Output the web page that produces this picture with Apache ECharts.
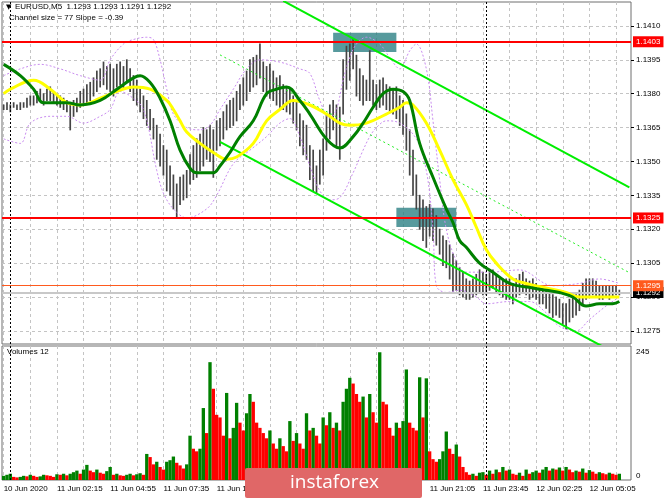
<!DOCTYPE html>
<html><head><meta charset="utf-8">
<script src="https://cdn.jsdelivr.net/npm/echarts@6/dist/echarts.min.js"></script>
<style>html,body{margin:0;padding:0;background:#fff}#c{width:665px;height:499px}</style>
</head><body><div id="c"></div>
<script>
// ---- data (10-minute bars, index 0 = 10 Jun 23:35) ----
const slotCount = 189;
const tickLabels = ['10 Jun 2020','11 Jun 02:15','11 Jun 04:55','11 Jun 07:35','11 Jun 10:15','11 Jun 12:55','11 Jun 15:35','11 Jun 18:15','11 Jun 21:05','11 Jun 23:45','12 Jun 02:25','12 Jun 05:05'];
const priceTicks = [1.1275,1.1290,1.1305,1.1320,1.1335,1.1350,1.1365,1.1380,1.1395,1.1410];
const volumeTicks = [0,245];
const barHigh = [
1.1375,1.1376,1.1375,1.1376,1.1375,1.1376,1.1376,1.1378,1.1379,1.1379,
1.1381,1.1382,1.1380,1.1382,1.1383,1.1381,1.1379,1.1379,1.1378,1.1377,
1.1375,1.1377,1.1378,1.1381,1.1382,1.1384,1.1385,1.1387,1.1390,1.1391,
1.1394,1.1392,1.1393,1.1391,1.1393,1.1394,1.1392,1.1395,1.1391,1.1388,
1.1386,1.1382,1.1379,1.1377,1.1373,1.1369,1.1366,1.1362,1.1357,1.1355,
1.1348,1.1344,1.1340,1.1343,1.1344,1.1346,1.1353,1.1357,1.1360,1.1362,
1.1365,1.1364,1.1366,1.1364,1.1368,1.1369,1.1372,1.1375,1.1377,1.1378,
1.1381,1.1384,1.1387,1.1390,1.1395,1.1396,1.1397,1.1402,1.1394,1.1392,
1.1393,1.1390,1.1387,1.1388,1.1384,1.1383,1.1382,1.1379,1.1377,1.1371,
1.1368,1.1366,1.1357,1.1355,1.1348,1.1355,1.1360,1.1371,1.1375,1.1377,
1.1375,1.1374,1.1395,1.1401,1.1402,1.1404,1.1397,1.1391,1.1388,1.1386,
1.1399,1.1386,1.1384,1.1386,1.1387,1.1384,1.1383,1.1382,1.1383,1.1379,
1.1377,1.1371,1.1364,1.1355,1.1344,1.1335,1.1333,1.1330,1.1331,1.1329,
1.1326,1.1320,1.1317,1.1315,1.1313,1.1309,1.1306,1.1303,1.1301,1.1298,
1.1297,1.1298,1.1300,1.1302,1.1301,1.1300,1.1302,1.1302,1.1300,1.1298,
1.1298,1.1298,1.1298,1.1296,1.1298,1.1300,1.1301,1.1298,1.1297,1.1298,
1.1296,1.1295,1.1295,1.1293,1.1292,1.1291,1.1290,1.1289,1.1287,1.1287,
1.1289,1.1290,1.1291,1.1293,1.1296,1.1298,1.1298,1.1298,1.1297,1.1295,
1.1295,1.1295,1.1295,1.1295,1.1295,1.1293];
const barLow = [
1.1373,1.1373,1.1372,1.1374,1.1373,1.1373,1.1374,1.1374,1.1375,1.1375,
1.1376,1.1377,1.1375,1.1377,1.1377,1.1376,1.1375,1.1374,1.1373,1.1372,
1.1364,1.1370,1.1372,1.1374,1.1375,1.1376,1.1377,1.1379,1.1381,1.1383,
1.1384,1.1382,1.1381,1.1379,1.1383,1.1384,1.1382,1.1385,1.1381,1.1377,
1.1375,1.1372,1.1369,1.1366,1.1364,1.1360,1.1351,1.1348,1.1344,1.1337,
1.1335,1.1329,1.1325,1.1331,1.1333,1.1334,1.1340,1.1342,1.1343,1.1346,
1.1348,1.1351,1.1350,1.1343,1.1355,1.1357,1.1360,1.1364,1.1365,1.1366,
1.1368,1.1373,1.1375,1.1377,1.1381,1.1383,1.1384,1.1387,1.1381,1.1379,
1.1378,1.1377,1.1375,1.1374,1.1373,1.1372,1.1371,1.1367,1.1364,1.1357,
1.1353,1.1351,1.1342,1.1337,1.1336,1.1340,1.1344,1.1355,1.1360,1.1364,
1.1357,1.1351,1.1371,1.1382,1.1386,1.1391,1.1379,1.1377,1.1375,1.1377,
1.1377,1.1375,1.1373,1.1374,1.1375,1.1373,1.1372,1.1371,1.1369,1.1366,
1.1362,1.1355,1.1344,1.1335,1.1329,1.1320,1.1315,1.1312,1.1317,1.1315,
1.1313,1.1309,1.1304,1.1303,1.1298,1.1292,1.1293,1.1291,1.1290,1.1289,
1.1289,1.1290,1.1291,1.1292,1.1291,1.1291,1.1293,1.1294,1.1292,1.1291,
1.1290,1.1289,1.1289,1.1287,1.1290,1.1291,1.1292,1.1291,1.1289,1.1290,
1.1289,1.1287,1.1287,1.1285,1.1283,1.1281,1.1282,1.1281,1.1278,1.1276,
1.1279,1.1281,1.1282,1.1284,1.1287,1.1289,1.1290,1.1291,1.1290,1.1289,
1.1289,1.1290,1.1289,1.1290,1.1291,1.1291];
const volumes = [8,10,12,6,5,6,8,7,10, 8,6,7,10,9,8,6, 11,10,12,9,12, 15,18,12,20,29, 18,15,20,14,12,17,25,
10,12,9,8,10,12,9,11,13,10, 50,44, 30,35,25,20, 35,38,45,33, 28,22,30, 85, 60,55, 60, 138, 90, 226, 175,
125,120, 85, 167, 80, 100, 148, 110,95, 128, 165,150, 110,100, 90,80,95, 70,60,80,65,55, 113, 75, 90,70,
60, 128, 95, 100,85, 70, 120,105,130,100, 110,95, 150,175, 196, 185, 165,150,160, 120, 165, 130,110, 245,
150, 145,100, 85,110,100, 113, 212, 110,100,95, 197, 120, 195, 55,40, 35,40, 55, 93, 60,50, 68, 45, 25,15,
10,12,8,14, 15,10,18, 12,20,15, 25, 18,20,12, 10,14,8, 20,12,15, 18,14,20, 25,18,22, 20,24,18, 25,
20,15,18,16, 22,14,19, 16,12,15, 13,11,14,12,10,12];
const maGreen = [[0,1.1393],[5,1.1388],[9,1.1382],[12,1.1376],[16,1.1376],[19,1.1376],[23,1.1375],[29,1.1377],[34,1.1382],[39,1.1387],[41,1.1388],[44,1.1385],[47,1.1378],[50,1.1368],[53,1.1355],[56,1.1347],[58,1.1345],[61,1.1345],[63,1.1345],[65,1.1348],[68,1.1354],[71,1.1361],[75,1.1368],[79,1.1380],[82,1.1382],[85,1.1383],[89,1.1377],[92,1.1371],[97,1.1360],[101,1.1356],[105,1.1361],[108,1.1367],[111,1.1374],[114,1.1380],[117,1.1382],[120,1.1381],[122,1.1377],[125,1.1358],[129,1.1343],[133,1.1329],[135,1.1323],[137,1.1315],[139,1.1312],[143,1.1305],[147,1.1301],[152,1.1296],[159,1.1294],[163,1.1293],[167,1.1292],[171,1.1290],[175,1.1286],[179,1.1287],[183,1.1287],[185,1.1288]];
const maYellow = [[0,1.1380],[2,1.1382],[9,1.1386],[14,1.1382],[19,1.1376],[23,1.1375],[29,1.1378],[34,1.1381],[39,1.1383],[44,1.1382],[49,1.1377],[51,1.1373],[53,1.1368],[55,1.1363],[59,1.1358],[63,1.1354],[67,1.1351],[70,1.1352],[75,1.1358],[79,1.1368],[83,1.1373],[87,1.1377],[92,1.1375],[97,1.1371],[101,1.1367],[104,1.1366],[109,1.1367],[115,1.1371],[119,1.1374],[121,1.1376],[123,1.1375],[127,1.1367],[131,1.1355],[135,1.1342],[139,1.1331],[142,1.1321],[145,1.1311],[148,1.1305],[153,1.1298],[157,1.1296],[163,1.1294],[169,1.1292],[173,1.1290],[179,1.1290],[185,1.1290]];
const bandUpper = [[0,1.1388],[5,1.1391],[11,1.1393],[17,1.1391],[23,1.1388],[29,1.1386],[32,1.1395],[36,1.1402],[39,1.1404],[43,1.1405],[45,1.1404],[47,1.1395],[49,1.1382],[51,1.1371],[55,1.1365],[59,1.1364],[62,1.1366],[65,1.1373],[69,1.1382],[73,1.1391],[77,1.1395],[83,1.1394],[89,1.1391],[92,1.1389],[95,1.1377],[98,1.1369],[100,1.1373],[102,1.1386],[104,1.1396],[106,1.1402],[109,1.1405],[113,1.1402],[116,1.1396],[119,1.1391],[122,1.1399],[124,1.1402],[127,1.1391],[129,1.1368],[131,1.1342],[133,1.1320],[136,1.1306],[139,1.1301],[146,1.1301],[155,1.1302],[165,1.1295],[173,1.1296],[179,1.1298],[185,1.1296]];
const bandLower = [[0,1.1360],[5,1.1358],[8,1.1367],[14,1.1370],[19,1.1370],[24,1.1367],[29,1.1370],[32,1.1373],[35,1.1381],[38,1.1379],[42,1.1373],[46,1.1346],[48,1.1336],[51,1.1329],[55,1.1325],[61,1.1329],[64,1.1335],[69,1.1349],[74,1.1355],[79,1.1361],[83,1.1367],[86,1.1369],[89,1.1361],[92,1.1348],[95,1.1337],[98,1.1333],[101,1.1334],[105,1.1345],[108,1.1355],[110,1.1361],[112,1.1365],[115,1.1368],[119,1.1367],[124,1.1360],[127,1.1346],[129,1.1320],[130,1.1295],[133,1.1292],[137,1.1293],[142,1.1290],[145,1.1287],[152,1.1288],[158,1.1288],[163,1.1283],[167,1.1277],[172,1.1275],[176,1.1280],[181,1.1286],[185,1.1290]];
const channelUpper = [[84,1.14211],[188,1.13385]];
const channelLower = [[65,1.13587],[180,1.12681]];
const channelMid = [[65,1.13972],[188,1.13008]];
const redLevels = [1.1403,1.1325];
const askLevel = 1.1295;
const bidLevel = 1.1292;
const zones = [[99,1.1407,118,1.13985],[118,1.13295,136,1.1321]];
const daySeparators = [2,145];

// ---- chart ----
const FONT = 'Liberation Sans, Arial, sans-serif';
const FS = 8;
const slots = Array.from({length: slotCount}, (_, i) => String(i));
const gridLine = {show: true, lineStyle: {color: '#c4c4c4', type: [3, 3], width: 1}};
const vSplit = Object.assign({}, gridLine, {alignWithLabel: true, interval: (i) => i % 8 === 0});
const sepLine = {
  symbol: 'none', silent: true, label: {show: false},
  lineStyle: {color: '#000', type: [2, 2], width: 1},
  data: daySeparators.map(d => ({xAxis: d}))
};
function levelLine(v, color, width, bg) {
  return {
    yAxis: v,
    lineStyle: {color: color, width: width, type: 'solid'},
    label: {show: true, position: 'end', distance: 2, formatter: v.toFixed(4),
      color: '#fff', backgroundColor: bg, padding: [2, 3, 1, 3], fontSize: FS, fontFamily: FONT}
  };
}
const chart = echarts.init(document.getElementById('c'));
chart.setOption({
  animation: false,
  backgroundColor: '#fff',
  grid: [
    {left: 2, top: 2, width: 629, height: 342, show: true, borderColor: '#6e6e6e', borderWidth: 1, backgroundColor: 'transparent', outerBoundsMode: 'none'},
    {left: 2, top: 346, width: 629, height: 134, show: true, borderColor: '#6e6e6e', borderWidth: 1, backgroundColor: 'transparent', outerBoundsMode: 'none'}
  ],
  xAxis: [
    {type: 'category', gridIndex: 0, data: slots, boundaryGap: true,
     axisLine: {show: false}, axisTick: {show: false}, axisLabel: {show: false}, splitLine: vSplit},
    {type: 'category', gridIndex: 1, data: slots, boundaryGap: true,
     axisLine: {show: false}, axisTick: {show: false}, splitLine: vSplit,
     axisLabel: {show: true, interval: (i) => i % 16 === 0, align: 'left', margin: 5,
       formatter: (v, i) => tickLabels[Math.round(i / 16)] || '',
       color: '#000', fontSize: FS, fontFamily: FONT}}
  ],
  yAxis: [
    {type: 'value', gridIndex: 0, position: 'right', min: 1.12692, max: 1.14206,
     axisLine: {show: false},
     axisTick: {show: true, length: 3, lineStyle: {color: '#000'}, customValues: priceTicks},
     axisLabel: {show: true, customValues: priceTicks, margin: 5, formatter: (v) => v.toFixed(4),
       color: '#000', fontSize: FS, fontFamily: FONT},
     splitLine: gridLine},
    {type: 'value', gridIndex: 1, position: 'right', min: 0, max: 257,
     axisLine: {show: false},
     axisTick: {show: false, customValues: volumeTicks},
     axisLabel: {show: true, customValues: volumeTicks, margin: 5,
       formatter: (v) => v === 0 ? '{lo|0}' : '{hi|' + v + '}',
       rich: {lo: {padding: [0, 0, 8, 0], fontSize: FS, fontFamily: FONT, color: '#000'},
              hi: {fontSize: FS, fontFamily: FONT, color: '#000'}},
       color: '#000', fontSize: FS, fontFamily: FONT},
     splitLine: {show: false}}
  ],
  series: [
    {type: 'custom', name: 'bars', xAxisIndex: 0, yAxisIndex: 0, z: 2,
     data: barLow.map((l, i) => [i, l, barHigh[i]]),
     encode: {x: 0, y: [1, 2]},
     renderItem: (params, api) => {
       const i = api.value(0);
       const a = api.coord([i, api.value(1)]);
       const b = api.coord([i, api.value(2)]);
       return {type: 'line', shape: {x1: a[0], y1: a[1] + 0.5, x2: b[0], y2: b[1] - 0.5},
               style: {stroke: '#454545', lineWidth: 1.7}};
     },
     markArea: {silent: true, itemStyle: {color: 'rgba(40,125,130,0.78)'},
       data: zones.map(z => [{xAxis: z[0], yAxis: z[1]}, {xAxis: z[2], yAxis: z[3]}])},
     markLine: sepLine},
    {type: 'line', name: 'upper band', xAxisIndex: 0, yAxisIndex: 0, z: 3, data: bandUpper, symbol: 'none', smooth: 0.35,
     lineStyle: {color: '#c98cf0', width: 1, type: [2, 2]}},
    {type: 'line', name: 'lower band', xAxisIndex: 0, yAxisIndex: 0, z: 3, data: bandLower, symbol: 'none', smooth: 0.35,
     lineStyle: {color: '#c98cf0', width: 1, type: [2, 2]}},
    {type: 'line', name: 'channel mid', xAxisIndex: 0, yAxisIndex: 0, z: 4, data: channelMid, symbol: 'none',
     lineStyle: {color: '#22ee22', width: 1, type: [2, 3]}},
    {type: 'line', name: 'channel upper', xAxisIndex: 0, yAxisIndex: 0, z: 4, data: channelUpper, symbol: 'none',
     lineStyle: {color: '#00ee00', width: 2}},
    {type: 'line', name: 'channel lower', xAxisIndex: 0, yAxisIndex: 0, z: 4, data: channelLower, symbol: 'none',
     lineStyle: {color: '#00ee00', width: 2}},
    {type: 'line', name: 'MA yellow', xAxisIndex: 0, yAxisIndex: 0, z: 5, data: maYellow, symbol: 'none', smooth: 0.4,
     lineStyle: {color: '#ffff00', width: 3}},
    {type: 'line', name: 'MA green', xAxisIndex: 0, yAxisIndex: 0, z: 6, data: maGreen, symbol: 'none', smooth: 0.4,
     lineStyle: {color: '#008000', width: 3}},
    {type: 'line', name: 'levels', xAxisIndex: 0, yAxisIndex: 0, z: 7, data: [], symbol: 'none',
     markLine: {symbol: 'none', silent: true, precision: 4,
       data: [levelLine(bidLevel, '#c8c8c8', 2, '#000'),
              levelLine(askLevel, '#ff5a1e', 1, '#ff5a1e')]
         .concat(redLevels.map(v => levelLine(v, '#ff0000', 2, '#ff0000')))}},
    {type: 'bar', name: 'Volumes', xAxisIndex: 1, yAxisIndex: 1, z: 2, barCategoryGap: '0%', barGap: '0%',
     data: volumes.map((v, i) => ({value: v, itemStyle: {color: (i === 0 || v > volumes[i - 1]) ? '#008000' : '#ff0000'}})),
     markLine: sepLine}
  ],
  graphic: [
    {type: 'text', left: 6, top: 4, z: 100, style: {text: '\u25BC', font: '7px DejaVu Sans', fill: '#000'}},
    {type: 'text', left: 15, top: 3, z: 100, style: {text: 'EURUSD,M5  1.1293 1.1293 1.1291 1.1292', font: FS + 'px ' + FONT, fill: '#000'}},
    {type: 'text', left: 9, top: 14, z: 100, style: {text: 'Channel size = 77 Slope = -0.39', font: FS + 'px ' + FONT, fill: '#000'}},
    {type: 'text', left: 7, top: 348, z: 100, style: {text: 'Volumes 12', font: FS + 'px ' + FONT, fill: '#000'}},
    {type: 'rect', zlevel: 1, z: 200, shape: {x: 245, y: 468, width: 177, height: 30, r: 2}, style: {fill: '#e06767'}},
    {type: 'text', zlevel: 1, z: 201, x: 290, y: 483, style: {text: 'instaforex', font: '19px Open Sans', fill: '#fff', verticalAlign: 'middle'}}
  ]
});
</script></body></html>
